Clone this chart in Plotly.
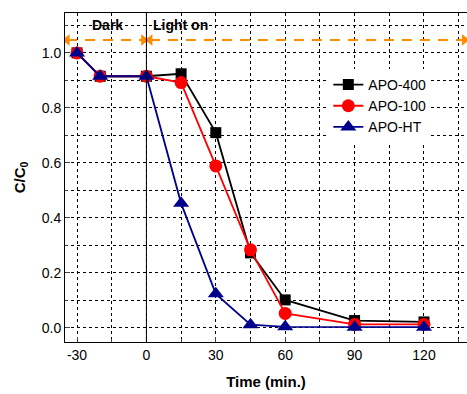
import plotly.graph_objects as go

time = [-30, -20, 0, 15, 30, 45, 60, 90, 120]
apo400 = [1.0, 0.915, 0.915, 0.924, 0.710, 0.273, 0.102, 0.027, 0.022]
apo100 = [1.0, 0.915, 0.915, 0.892, 0.589, 0.284, 0.053, 0.013, 0.013]
apoht = [1.0, 0.915, 0.915, 0.453, 0.124, 0.012, 0.004, 0.003, 0.003]

xticks = [-30, 0, 30, 60, 90, 120]
xticklabels = ["-30", "0", "30", "60", "90", "120"]
yticks = [0.0, 0.2, 0.4, 0.6, 0.8, 1.0]

FONT = "Liberation Sans, Arial, sans-serif"
orange = "#FF8C00"

fig = go.Figure()

# orange dashed arrows
fig.add_trace(go.Scatter(x=[-34.3, -1.2], y=[1.047, 1.047], mode="lines+markers",
                         line=dict(color=orange, width=2, dash="10px,8px"),
                         marker=dict(symbol=["triangle-left", "triangle-right"], size=10, color=orange),
                         showlegend=False, hoverinfo="skip"))
fig.add_trace(go.Scatter(x=[1.5, 137.5], y=[1.047, 1.047], mode="lines+markers",
                         line=dict(color=orange, width=2, dash="10px,8px"),
                         marker=dict(symbol=["triangle-left", "triangle-right"], size=10, color=orange),
                         showlegend=False, hoverinfo="skip"))

fig.add_trace(go.Scatter(x=time, y=apo400, name="APO-400", mode="lines+markers",
                         line=dict(color="black", width=1.8),
                         marker=dict(symbol="square", size=11, color="black")))
fig.add_trace(go.Scatter(x=time, y=apo100, name="APO-100", mode="lines+markers",
                         line=dict(color="red", width=1.8),
                         marker=dict(symbol="circle", size=13, color="red")))
fig.add_trace(go.Scatter(x=time, y=apoht, name="APO-HT", mode="lines+markers",
                         line=dict(color="#00008B", width=1.8),
                         marker=dict(symbol="triangle-up", size=14, color="#00008B")))

fig.add_shape(type="line", x0=0, x1=0, y0=0, y1=1, yref="paper", xref="x",
              line=dict(color="black", width=1))

fig.add_annotation(x=-30 + (107 - 77) / 34.7 * 15, y=1.103, text="<b>Dark</b>", showarrow=False,
                   font=dict(family=FONT, size=14, color="black"))
fig.add_annotation(x=(180 - 146) / 34.7 * 15, y=1.103, text="<b>Light on</b>", showarrow=False,
                   font=dict(family=FONT, size=14, color="black"))

fig.update_layout(
    width=467, height=394,
    margin=dict(l=65, r=0, t=13, b=52),
    plot_bgcolor="white", paper_bgcolor="white",
    font=dict(family=FONT, size=14, color="black"),
    legend=dict(x=0.655, y=0.83, xanchor="left", yanchor="top",
                bgcolor="white", borderwidth=0, font=dict(size=14),
                tracegroupgap=0, itemwidth=30),
    showlegend=True,
)
fig.update_xaxes(range=[-35.2, 138.6], tickvals=xticks, ticktext=xticklabels,
                 ticks="inside", ticklen=5, tickfont=dict(size=14),
                 showline=True, linecolor="black", linewidth=1, mirror=True,
                 showgrid=True, gridcolor="black", griddash="dot", gridwidth=1,
                 minor=dict(dtick=15, tick0=0, showgrid=True, gridcolor="black", griddash="dot",
                            ticks="inside", ticklen=3),
                 zeroline=False,
                 title=dict(text="<b>Time (min.)</b>", font=dict(size=15), standoff=14))
fig.update_yaxes(range=[-0.051, 1.145], tickvals=yticks, tickformat=".1f",
                 ticks="inside", ticklen=5, tickfont=dict(size=14),
                 showline=True, linecolor="black", linewidth=1,
                 showgrid=True, gridcolor="black", griddash="dot", gridwidth=1,
                 minor=dict(dtick=0.1, tick0=0, showgrid=True, gridcolor="black", griddash="dot",
                            ticks="inside", ticklen=3),
                 zeroline=False,
                 title=dict(text="<b>C/C<sub>0</sub></b>", font=dict(size=15), standoff=12))

fig.write_html("out.html")
